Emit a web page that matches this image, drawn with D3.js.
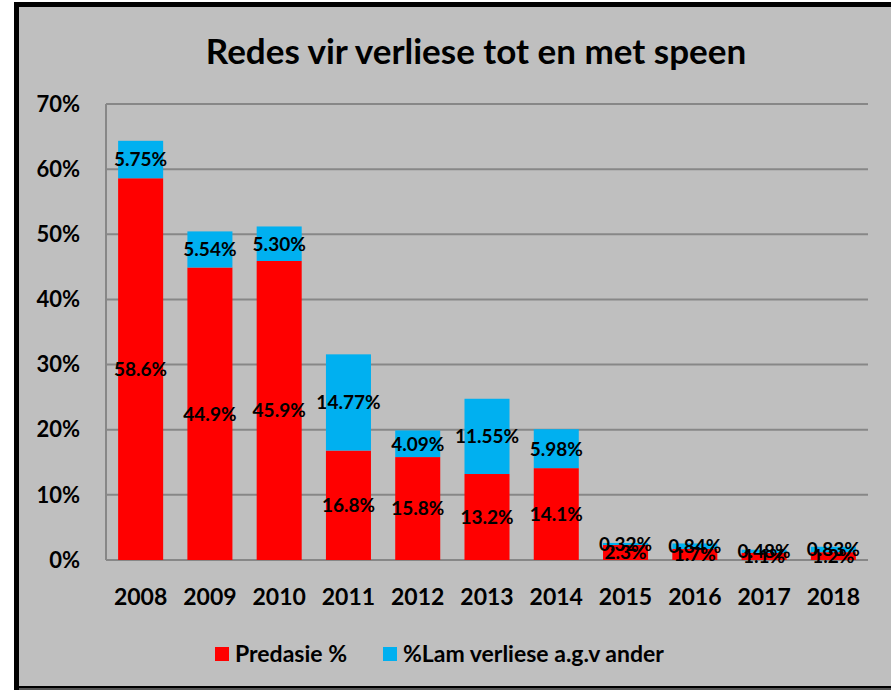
<!DOCTYPE html>
<html>
<head>
<meta charset="utf-8">
<script src="https://cdn.jsdelivr.net/npm/d3@7"></script>
<style>
  html, body { margin: 0; padding: 0; background: #fff; }
  svg { display: block; }
  text { font-family: Lato, "Open Sans", sans-serif; font-weight: bold; fill: #000; }
</style>
</head>
<body>
<svg id="chart" width="891" height="690"></svg>
<script>
const years = ['2008', '2009', '2010', '2011', '2012', '2013', '2014', '2015', '2016', '2017', '2018'];
const predasie = [58.6, 44.9, 45.9, 16.8, 15.8, 13.2, 14.1, 2.3, 1.7, 1.1, 1.2];
const ander = [5.75, 5.54, 5.30, 14.77, 4.09, 11.55, 5.98, 0.32, 0.84, 0.48, 0.83];
const yTicks = [0, 10, 20, 30, 40, 50, 60, 70];
const seriesNames = ['Predasie %', '%Lam verliese a.g.v ander'];
const colors = ['#ff0000', '#00b0f0'];

const svg = d3.select('#chart');

// chart box
svg.append('rect')
  .attr('x', 16.5).attr('y', 4.5)
  .attr('width', 900).attr('height', 684)
  .attr('fill', '#bfbfbf')
  .attr('stroke', '#000')
  .attr('stroke-width', 5);
svg.append('line')
  .attr('x1', 19).attr('x2', 891).attr('y1', 689).attr('y2', 689)
  .attr('stroke', '#555').attr('stroke-width', 2);

svg.append('text')
  .attr('x', 476).attr('y', 64)
  .attr('text-anchor', 'middle')
  .style('font-size', '35px')
  .text('Redes vir verliese tot en met speen');

const plotL = 106, plotR = 868, plotT = 104, plotB = 560;

const x = d3.scaleBand()
  .domain(years)
  .range([plotL, plotR])
  .paddingInner(0.35)
  .paddingOuter(0.175);

const y = d3.scaleLinear()
  .domain([0, 70])
  .range([plotB, plotT]);

// gridlines
svg.append('g')
  .selectAll('line')
  .data(yTicks)
  .join('line')
  .attr('x1', plotL).attr('x2', plotR)
  .attr('y1', (d) => y(d)).attr('y2', (d) => y(d))
  .attr('stroke', '#878787')
  .attr('stroke-width', 2);

svg.append('line')
  .attr('x1', plotL).attr('x2', plotL)
  .attr('y1', plotT).attr('y2', plotB)
  .attr('stroke', '#878787')
  .attr('stroke-width', 2);

// y labels
svg.append('g')
  .selectAll('text')
  .data(yTicks)
  .join('text')
  .attr('x', 80)
  .attr('y', (d) => y(d))
  .attr('dy', '0.35em')
  .attr('text-anchor', 'end')
  .style('font-size', '22px')
  .text((d) => d + '%');

// x labels
svg.append('g')
  .selectAll('text')
  .data(years)
  .join('text')
  .attr('x', (d) => x(d) + x.bandwidth() / 2)
  .attr('y', 605)
  .attr('text-anchor', 'middle')
  .style('font-size', '23px')
  .text((d) => d);

const rows = years.map((yr, i) => ({ year: yr, predasie: predasie[i], ander: ander[i] }));
const stacked = d3.stack().keys(['predasie', 'ander'])(rows);

const layers = svg.append('g')
  .selectAll('g')
  .data(stacked)
  .join('g')
  .attr('fill', (d, i) => colors[i]);

layers.selectAll('rect')
  .data((d) => d)
  .join('rect')
  .attr('x', (d) => x(d.data.year))
  .attr('width', x.bandwidth())
  .attr('y', (d) => y(d[1]))
  .attr('height', (d) => y(d[0]) - y(d[1]));

// value labels (small years overlap in the original too)
stacked.forEach((layer, li) => {
  svg.append('g')
    .selectAll('text')
    .data(layer)
    .join('text')
    .attr('x', (d) => x(d.data.year) + x.bandwidth() / 2)
    .attr('y', (d) => y((d[0] + d[1]) / 2))
    .attr('dy', '0.36em')
    .attr('text-anchor', 'middle')
    .style('font-size', '19px')
    .text((d) => (li === 0 ? d.data.predasie.toFixed(1) : d.data.ander.toFixed(2)) + '%');
});

// legend
const legendX = [215, 383];
const legend = svg.append('g')
  .selectAll('g')
  .data(seriesNames)
  .join('g')
  .attr('transform', (d, i) => `translate(${legendX[i]},647)`);
legend.append('rect')
  .attr('width', 14).attr('height', 14)
  .attr('fill', (d, i) => colors[i]);
legend.append('text')
  .attr('x', 20).attr('y', 7)
  .attr('dy', '0.36em')
  .style('font-size', '23px')
  .text((d) => d);
</script>
</body>
</html>
